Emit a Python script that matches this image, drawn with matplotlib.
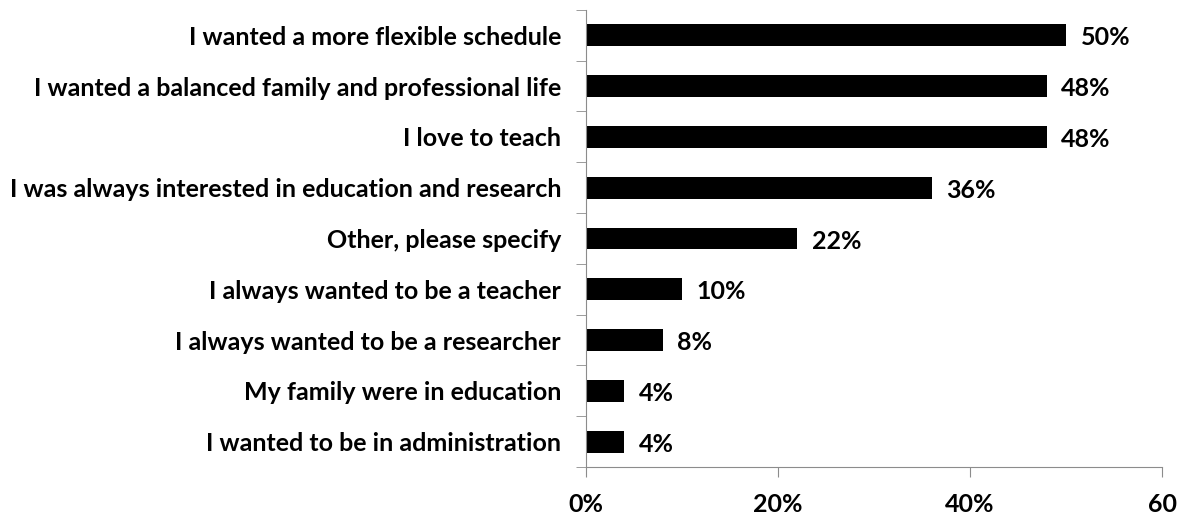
import matplotlib.pyplot as plt
import numpy as np

categories = [
    "I wanted a more flexible schedule",
    "I wanted a balanced family and professional life",
    "I love to teach",
    "I was always interested in education and research",
    "Other, please specify",
    "I always wanted to be a teacher",
    "I always wanted to be a researcher",
    "My family were in education",
    "I wanted to be in administration",
]
values = [50, 48, 48, 36, 22, 10, 8, 4, 4]
xticks = [0, 20, 40, 60]
xtick_labels = ["0%", "20%", "40%", "60"]

plt.rcParams['font.family'] = ['Lato', 'DejaVu Sans']
plt.rcParams['font.weight'] = 'bold'

fig = plt.figure(figsize=(11.77, 5.21), dpi=100)
ax = fig.add_axes([0.4979, 0.1036, 0.4894, 0.8774])

y = np.arange(len(categories))
ax.barh(y, values, height=0.43, color='black')
for yi, v in zip(y, values):
    ax.text(v + 1.5, yi + 0.05, f"{v}%", va='center', ha='left', fontsize=18, fontweight='bold')

ax.set_ylim(len(categories) - 0.5, -0.5)
ax.set_xlim(0, 60)
ax.set_yticks(y)
ax.set_yticklabels(categories, fontsize=18, fontweight='bold')
ax.tick_params(axis='y', length=0, pad=18)
ax.set_yticks(np.arange(-0.5, len(categories)), minor=True)
ax.tick_params(axis='y', which='minor', length=7, color='#8c8c8c')
ax.set_xticks(xticks)
ax.set_xticklabels(xtick_labels, fontsize=18, fontweight='bold')
ax.tick_params(axis='x', length=7, color='#8c8c8c', pad=12)

for s in ['top', 'right']:
    ax.spines[s].set_visible(False)
for s in ['left', 'bottom']:
    ax.spines[s].set_color('#8c8c8c')

fig.savefig('out.png', dpi=100)
